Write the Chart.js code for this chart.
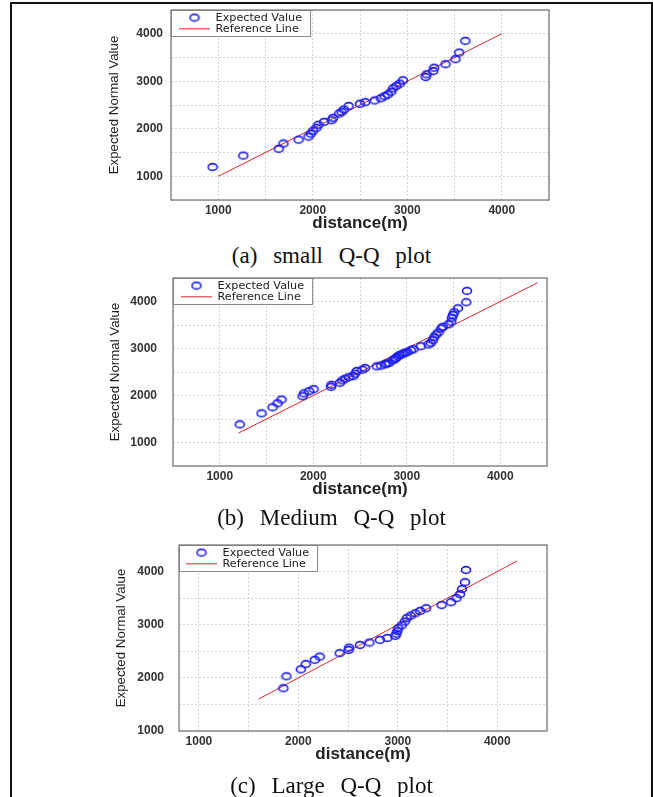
<!DOCTYPE html>
<html>
<head>
<meta charset="utf-8">
<script src="https://cdn.jsdelivr.net/npm/chart.js@4.4.1/dist/chart.umd.min.js"></script>
<style>
  body { margin: 0; background: #fff; width: 653px; height: 797px; overflow: hidden; position: relative; }
  .frame { position: absolute; left: 10px; top: 2px; width: 639px; height: 830px; border: 2px solid #111; border-bottom: none; }
  canvas { position: absolute; left: 0; }
  .cap { position: absolute; left: 0; width: 663px; text-align: center; font-family: "Liberation Serif", serif; font-size: 23px; line-height: 23px; word-spacing: 10px; color: #111; }
</style>
</head>
<body>
<div class="frame"></div>
<canvas id="small" width="653" height="240" style="top:0px"></canvas>
<div class="cap" style="top:244px">(a) small Q-Q plot</div>
<canvas id="medium" width="653" height="238" style="top:268px"></canvas>
<div class="cap" style="top:506px">(b) Medium Q-Q plot</div>
<canvas id="large" width="653" height="236" style="top:535px"></canvas>
<div class="cap" style="top:774px">(c) Large Q-Q plot</div>
<script>
// small sample
const smallX = [940, 1265, 1640, 1690, 1850, 1955, 1980, 2005, 2040, 2060, 2120, 2200, 2215, 2280, 2305, 2330, 2380, 2500,
  2555, 2655, 2720, 2760, 2795, 2830, 2850, 2885, 2920, 2955, 3195, 3205, 3275, 3285, 3405, 3510, 3550, 3615];
const smallY = [1195, 1435, 1578, 1690, 1770, 1835, 1895, 1960, 2020, 2085, 2145, 2180, 2230, 2320, 2355, 2405, 2480, 2525,
  2560, 2595, 2640, 2685, 2720, 2780, 2850, 2900, 2950, 3020, 3090, 3145, 3215, 3285, 3360, 3465, 3605, 3850];
const smallRefX = [1000, 4000];
const smallRefY = [1000, 4000];

// medium sample
const mediumX = [1214, 1447, 1565, 1618, 1661, 1886, 1900, 1957, 2004, 2190, 2195, 2286, 2311, 2340, 2383, 2429, 2447, 2465,
  2525, 2554, 2679, 2726, 2768, 2787, 2811, 2851, 2870, 2886, 2900, 2922, 2945, 2965, 2985, 3008, 3044, 3072, 3151, 3233,
  3258, 3279, 3294, 3315, 3340, 3369, 3387, 3447, 3476, 3483, 3494, 3508, 3548, 3637, 3644];
const mediumY = [1385, 1621, 1750, 1835, 1914, 1985, 2043, 2092, 2135, 2185, 2228, 2272, 2321, 2357, 2392, 2413, 2464, 2520,
  2550, 2585, 2621, 2636, 2664, 2678, 2692, 2749, 2770, 2799, 2830, 2857, 2875, 2893, 2910, 2927, 2964, 2985, 3049, 3086,
  3120, 3178, 3242, 3300, 3343, 3428, 3462, 3514, 3570, 3655, 3713, 3771, 3856, 3985, 4227];
const mediumRefX = [1200, 4400];
const mediumRefY = [1200, 4400];

// large sample
const largeX = [1850, 1880, 2025, 2075, 2165, 2215, 2415, 2505, 2510, 2620, 2715, 2820, 2895, 2975, 2985, 2995, 3005, 3040,
  3070, 3090, 3130, 3175, 3225, 3285, 3440, 3535, 3590, 3625, 3645, 3675, 3685];
const largeY = [1805, 2030, 2160, 2260, 2340, 2400, 2465, 2525, 2570, 2620, 2665, 2715, 2750, 2790, 2830, 2880, 2935, 2990,
  3060, 3125, 3170, 3215, 3260, 3310, 3370, 3425, 3500, 3575, 3670, 3800, 4030];
const largeRefX = [1600, 4200];
const largeRefY = [1600, 4200];

// grid positions (labels only on the thousands)
const gridA = [500, 1000, 1500, 2000, 2500, 3000, 3500, 4000, 4500];
const gridLargeY = [1000, 1500, 2000, 2500, 3000, 3500, 4000, 4500];
const gridLargeX = [1000, 1500, 2000, 2500, 3000, 3500, 4000, 4500];

const blue = '#1c1cf0';
const red = '#e3262b';

// open elliptical marker like the original
const marker = document.createElement('canvas');
marker.width = 12; marker.height = 10;
const mc = marker.getContext('2d');
mc.strokeStyle = blue; mc.lineWidth = 1.6;
mc.beginPath(); mc.ellipse(6, 5, 4.5, 3.4, 0, 0, Math.PI * 2); mc.stroke();

const toPts = (xs, ys) => xs.map((x, i) => ({ x: x, y: ys[i] }));

const framePlugin = {
  id: 'frame',
  afterLayout(chart) {
    const lg = chart.legend;
    lg.left = chart.chartArea.left + chart.options.legendDx;
    lg.top = chart.chartArea.top + 2;
  },
  afterDraw(chart) {
    const { ctx, chartArea: a } = chart;
    const lg = chart.legend;
    const w = Math.max(...lg.legendHitBoxes.map(h => h.width)) + chart.options.legendDx + 8;
    ctx.save();
    ctx.fillStyle = '#fff';
    ctx.fillRect(a.left, a.top, w, 26);
    ctx.strokeStyle = '#8a8a8a';
    ctx.lineWidth = 1;
    ctx.strokeRect(a.left + 0.5, a.top + 0.5, w, 26);
    ctx.restore();
    lg.draw();
    ctx.save();
    ctx.strokeStyle = '#7a7a7a';
    ctx.lineWidth = 1.3;
    ctx.strokeRect(a.left, a.top, a.right - a.left, a.bottom - a.top);
    ctx.restore();
  }
};

const tickFont = { family: 'Liberation Sans', size: 12, weight: 'bold' };
const noPad = ax => { ax.paddingTop = 0; ax.paddingBottom = 0; ax.paddingLeft = 0; ax.paddingRight = 0; };

function qqChart(id, pts, ref, xr, yr, xGrid, yGrid, pad, yw, yTickPad, yTitlePad, legendDx) {
  return new Chart(document.getElementById(id), {
    type: 'scatter',
    data: {
      datasets: [
        { label: 'Expected Value', data: pts, pointStyle: marker, pointRadius: 4, borderColor: blue, backgroundColor: 'rgba(0,0,0,0)' },
        { type: 'line', label: 'Reference Line', data: ref, borderColor: red, pointBorderColor: red, borderWidth: 1,
          pointRadius: 0, pointStyle: 'line', showLine: true, fill: false }
      ]
    },
    options: {
      responsive: false,
      animation: false,
      events: [],
      legendDx: legendDx,
      layout: { padding: pad },
      plugins: {
        tooltip: { enabled: false },
        legend: {
          position: 'chartArea',
          align: 'start',
          labels: { usePointStyle: true, pointStyleWidth: 31, boxHeight: 8, padding: 0, color: '#222',
            font: { family: 'DejaVu Sans', size: 11.2 } }
        }
      },
      scales: {
        x: {
          type: 'linear', min: xr[0], max: xr[1],
          afterBuildTicks: ax => { ax.ticks = xGrid.map(v => ({ value: v })); },
          afterFit: ax => { ax.height = 40; noPad(ax); },
          grid: { color: '#d4d4d4', drawTicks: false },
          border: { display: false, dash: [2, 2] },
          ticks: { padding: 3, color: '#333', font: tickFont, maxRotation: 0, autoSkip: false,
            callback: v => (v % 1000 === 0 ? String(v) : '') },
          title: { display: true, text: 'distance(m)', color: '#222', padding: { top: 0, bottom: 6 },
            font: { family: 'Liberation Sans', size: 17, weight: 'bold' } }
        },
        y: {
          type: 'linear', min: yr[0], max: yr[1],
          afterBuildTicks: ax => { ax.ticks = yGrid.map(v => ({ value: v })); },
          afterFit: ax => { ax.width = yw; noPad(ax); },
          grid: { color: '#d4d4d4', drawTicks: false },
          border: { display: false, dash: [2, 2] },
          ticks: { padding: yTickPad, color: '#333', font: tickFont, autoSkip: false,
            callback: v => (v % 1000 === 0 ? String(v) : '') },
          title: { display: true, text: 'Expected Normal Value', color: '#222', padding: { top: yTitlePad, bottom: 0 },
            font: { family: 'Liberation Sans', size: 13.3 } }
        }
      }
    },
    plugins: [framePlugin]
  });
}

qqChart('small', toPts(smallX, smallY), toPts(smallRefX, smallRefY), [500, 4500], [500, 4500], gridA, gridA,
  { left: 103, top: 10, right: 104, bottom: 0 }, 68, 8, 3, 8);
qqChart('medium', toPts(mediumX, mediumY), toPts(mediumRefX, mediumRefY), [500, 4500], [500, 4500], gridA, gridA,
  { left: 105, top: 10, right: 106, bottom: 0 }, 68, 16, 2, 8);
qqChart('large', toPts(largeX, largeY), toPts(largeRefX, largeRefY), [800, 4500], [1000, 4500], gridLargeX, gridLargeY,
  { left: 110, top: 10, right: 106, bottom: 0 }, 69, 15, 3, 7);
</script>
</body>
</html>
